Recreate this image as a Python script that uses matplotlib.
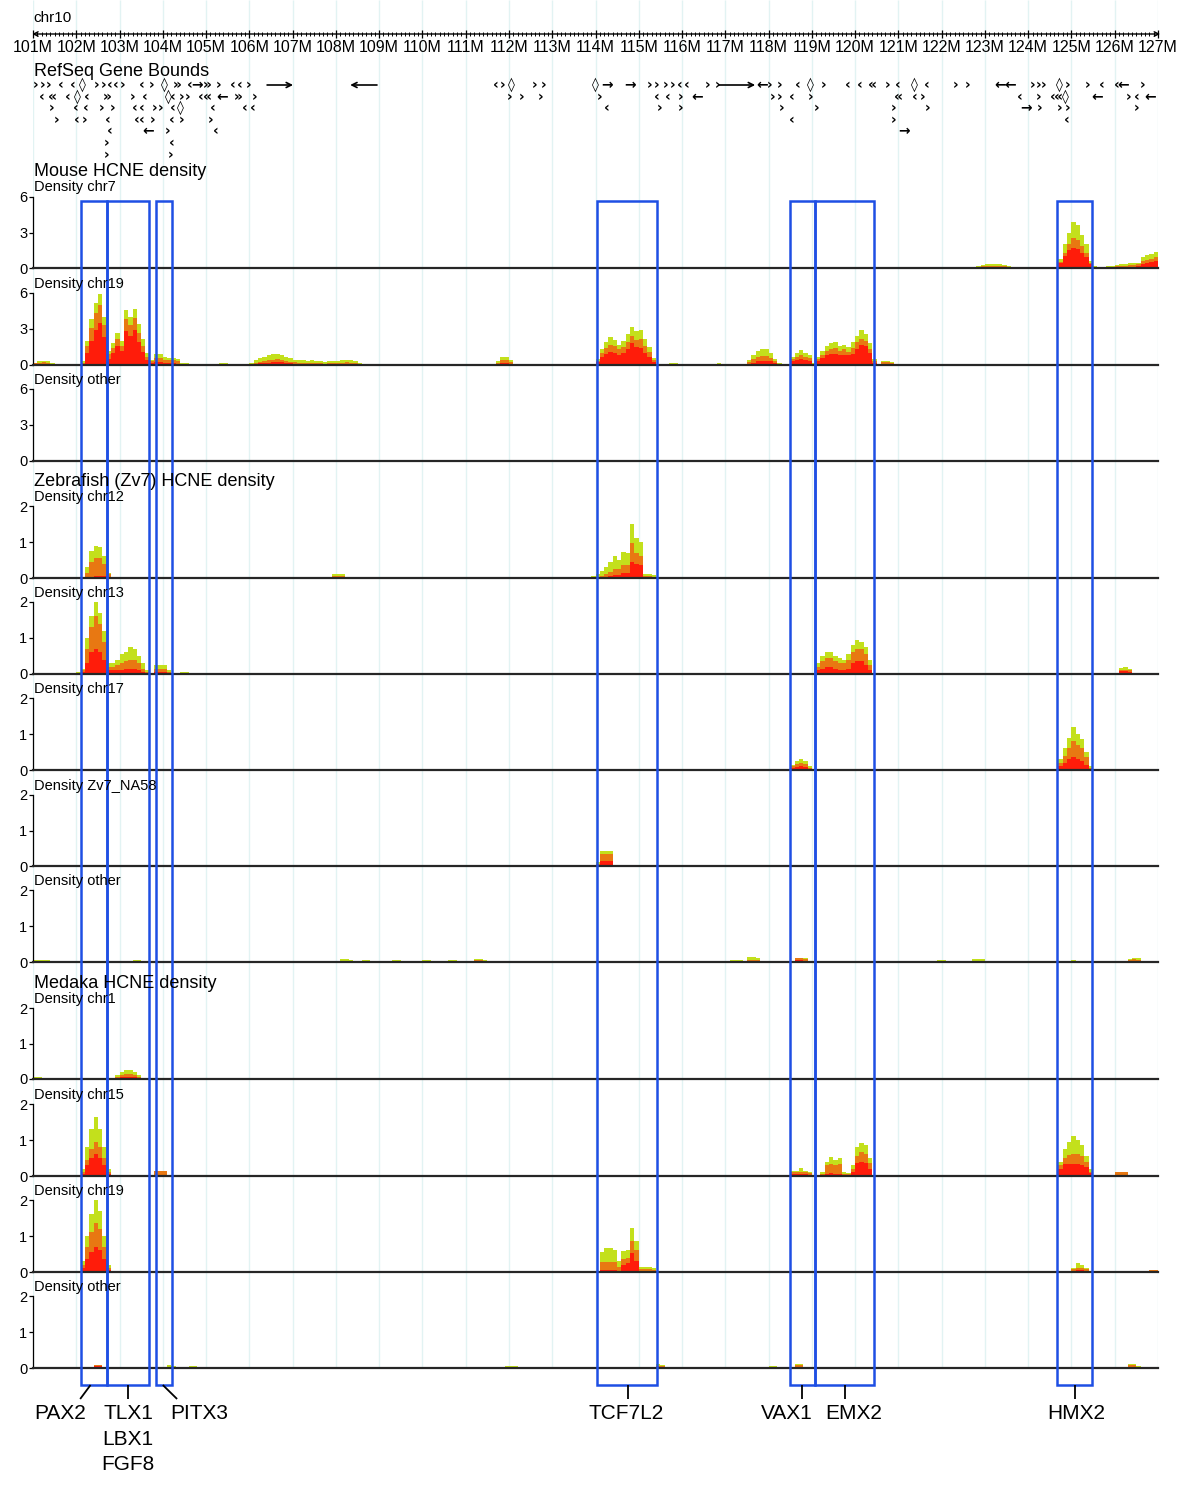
import numpy as np
import matplotlib
matplotlib.use("Agg")
import matplotlib.pyplot as plt
from matplotlib.patches import Rectangle
from matplotlib.ticker import MultipleLocator

plt.rcParams['font.family'] = ['Liberation Sans', 'DejaVu Sans']

# ---------------------------------------------------------------- data
CHROM = "chr10"
MB_START, MB_END = 101, 127
RULER_MAJOR = list(range(101, 128))
RULER_LABELS = [f"{m}M" for m in RULER_MAJOR]
STEP = 0.1  # Mb per density bin

# density runs: (start Mb, green (all), orange, red) heights per 0.1 Mb bin
mm_chr7 = [
    (121.1, [0.04, 0.05, 0.05, 0.04], [0.02, 0.03, 0.03, 0.02], [0.01, 0.01, 0.01, 0.01]),
    (121.8, [0.04, 0.05, 0.04], [0.02, 0.03, 0.02], [0.01, 0.01, 0.01]),
    (122.6, [0.08, 0.12, 0.18, 0.25, 0.3, 0.3, 0.35, 0.3, 0.25, 0.2, 0.12, 0.08],
            [0.05, 0.07, 0.1, 0.15, 0.18, 0.18, 0.2, 0.18, 0.15, 0.12, 0.07, 0.05],
            [0.02, 0.03, 0.05, 0.07, 0.09, 0.09, 0.1, 0.09, 0.07, 0.06, 0.03, 0.02]),
    (124.7, [0.8, 2.0, 3.0, 3.9, 3.6, 2.8, 2.0, 0.6],
            [0.5, 1.3, 2.0, 2.5, 2.4, 1.9, 1.3, 0.4],
            [0.4, 1.0, 1.5, 1.7, 1.6, 1.3, 0.9, 0.3]),
    (125.5, [0.2, 0.1, 0.1, 0.15, 0.2, 0.25, 0.3, 0.35, 0.4, 0.4, 0.45, 0.9, 1.1, 1.2, 1.35],
            [0.1, 0.05, 0.05, 0.1, 0.12, 0.15, 0.2, 0.2, 0.25, 0.25, 0.3, 0.6, 0.7, 0.8, 0.9],
            [0.05, 0.03, 0.03, 0.05, 0.06, 0.08, 0.1, 0.1, 0.12, 0.12, 0.15, 0.35, 0.4, 0.5, 0.55]),
]

mm_chr19 = [
    (101.0, [0.2, 0.3, 0.35, 0.3, 0.15], [0.15, 0.2, 0.25, 0.2, 0.1], [0.05, 0.1, 0.1, 0.1, 0.05]),
    (101.7, [0.08, 0.08, 0.08, 0.08], [0.06, 0.06, 0.06, 0.06], [0.03, 0.03, 0.03, 0.03]),
    (102.1, [0.3, 2.0, 3.8, 5.2, 5.9, 4.0, 1.2],
            [0.2, 1.6, 3.1, 4.3, 5.0, 3.3, 0.9],
            [0.1, 1.0, 2.0, 2.9, 3.5, 2.3, 0.5]),
    (102.8, [1.8, 2.7, 2.0, 4.6, 4.0, 4.7, 3.4, 2.2, 1.0, 0.4],
            [1.4, 2.2, 1.6, 3.8, 3.3, 3.9, 2.7, 1.6, 0.7, 0.3],
            [1.0, 1.6, 1.2, 2.8, 2.4, 2.9, 1.9, 1.1, 0.4, 0.15]),
    (103.8, [0.9, 0.9, 0.7, 0.6, 0.6, 0.5, 0.2, 0.15, 0.1, 0.05],
            [0.6, 0.6, 0.45, 0.4, 0.4, 0.3, 0.12, 0.1, 0.06, 0.03],
            [0.25, 0.25, 0.2, 0.15, 0.15, 0.1, 0.05, 0.05, 0.03, 0.02]),
    (105.2, [0.12, 0.15, 0.15, 0.1], [0.08, 0.08, 0.08, 0.06], [0.04, 0.04, 0.04, 0.03]),
    (106.0, [0.2, 0.4, 0.55, 0.7, 0.8, 0.9, 0.95, 0.85, 0.7, 0.55, 0.45, 0.4, 0.4,
             0.35, 0.4, 0.35, 0.3, 0.25, 0.3, 0.35, 0.35, 0.4, 0.45, 0.4, 0.3, 0.2],
            [0.1, 0.2, 0.28, 0.35, 0.4, 0.45, 0.48, 0.42, 0.35, 0.28, 0.22, 0.2, 0.2,
             0.18, 0.2, 0.18, 0.15, 0.12, 0.15, 0.18, 0.18, 0.2, 0.22, 0.2, 0.15, 0.1],
            [0.05, 0.1, 0.14, 0.18, 0.2, 0.22, 0.24, 0.21, 0.18, 0.14, 0.11, 0.1, 0.1,
             0.09, 0.1, 0.09, 0.08, 0.06, 0.08, 0.09, 0.09, 0.1, 0.11, 0.1, 0.08, 0.05]),
    (111.7, [0.3, 0.7, 0.7, 0.4, 0.1], [0.2, 0.4, 0.4, 0.25, 0.05], [0.1, 0.2, 0.2, 0.1, 0.03]),
    (113.1, [0.1, 0.1, 0.1, 0.08], [0.05, 0.05, 0.05, 0.04], [0.02, 0.02, 0.02, 0.02]),
    (114.0, [0.5, 1.3, 1.9, 2.3, 2.1, 1.7, 2.0, 2.6, 3.2, 2.8, 2.9, 2.2, 1.5, 0.6],
            [0.35, 1.0, 1.4, 1.7, 1.6, 1.3, 1.5, 1.9, 2.4, 2.1, 2.2, 1.6, 1.1, 0.4],
            [0.25, 0.7, 0.9, 1.1, 1.0, 0.8, 1.0, 1.3, 1.8, 1.5, 1.4, 1.0, 0.7, 0.25]),
    (115.7, [0.15, 0.15], [0.08, 0.08], [0.03, 0.03]),
    (116.8, [0.15, 0.12], [0.08, 0.06], [0.03, 0.03]),
    (117.4, [0.1, 0.4, 0.8, 1.2, 1.3, 1.3, 1.0, 0.5, 0.15],
            [0.05, 0.25, 0.5, 0.7, 0.75, 0.75, 0.6, 0.3, 0.08],
            [0.03, 0.1, 0.2, 0.3, 0.35, 0.35, 0.3, 0.15, 0.05]),
    (118.5, [0.7, 1.0, 1.25, 1.0, 0.8, 0.2], [0.5, 0.7, 0.8, 0.7, 0.55, 0.1],
            [0.3, 0.45, 0.5, 0.45, 0.35, 0.05]),
    (119.1, [0.7, 1.2, 1.6, 1.8, 1.9, 1.6, 1.7, 1.5, 1.9, 2.4, 2.9, 2.6, 1.8, 0.5],
            [0.5, 0.85, 1.2, 1.3, 1.4, 1.2, 1.3, 1.1, 1.4, 1.9, 2.2, 2.0, 1.3, 0.3],
            [0.3, 0.6, 0.8, 0.9, 0.95, 0.8, 0.85, 0.8, 0.9, 1.3, 1.7, 1.6, 1.0, 0.2]),
    (120.6, [0.3, 0.35, 0.25], [0.25, 0.25, 0.2], [0.1, 0.1, 0.08]),
]

mm_other = []

zf_chr12 = [
    (102.2, [0.3, 0.75, 0.9, 0.85, 0.6, 0.15], [0.15, 0.45, 0.55, 0.55, 0.4, 0.1],
            [0.02, 0.04, 0.06, 0.06, 0.05, 0.02]),
    (107.9, [0.1, 0.1, 0.1], [0.05, 0.05, 0.05], [0.02, 0.02, 0.02]),
    (113.9, [0.05, 0.1, 0.2, 0.3, 0.45, 0.6, 0.5, 0.72, 0.7, 1.5, 1.1, 1.0, 0.12, 0.12, 0.08],
            [0.02, 0.04, 0.06, 0.1, 0.18, 0.25, 0.25, 0.35, 0.35, 0.97, 0.7, 0.6, 0.05, 0.05, 0.03],
            [0.0, 0.0, 0.02, 0.03, 0.05, 0.08, 0.08, 0.15, 0.15, 0.45, 0.4, 0.35, 0.02, 0.02, 0.01]),
]

zf_chr13 = [
    (102.0, [0.05, 0.15, 1.0, 1.6, 2.0, 1.7, 1.2, 0.3],
            [0.03, 0.1, 0.7, 1.3, 1.6, 1.4, 0.9, 0.2],
            [0.01, 0.05, 0.3, 0.6, 0.7, 0.6, 0.4, 0.1]),
    (102.8, [0.3, 0.4, 0.55, 0.6, 0.75, 0.7, 0.5, 0.3, 0.1],
            [0.2, 0.25, 0.3, 0.35, 0.4, 0.4, 0.3, 0.15, 0.05],
            [0.1, 0.1, 0.12, 0.15, 0.15, 0.15, 0.1, 0.05, 0.02]),
    (103.8, [0.25, 0.25, 0.25, 0.1], [0.15, 0.15, 0.15, 0.06], [0.05, 0.05, 0.05, 0.02]),
    (104.4, [0.05, 0.05], [0.03, 0.03], [0.01, 0.01]),
    (112.5, [0.02, 0.02], [0.01, 0.01], [0.0, 0.0]),
    (117.8, [0.03, 0.03, 0.03], [0.01, 0.01, 0.01], [0.0, 0.0, 0.0]),
    (119.1, [0.3, 0.5, 0.6, 0.6, 0.5, 0.45, 0.4, 0.55, 0.8, 0.95, 0.9, 0.75, 0.4],
            [0.2, 0.35, 0.45, 0.45, 0.35, 0.3, 0.3, 0.4, 0.6, 0.7, 0.7, 0.55, 0.25],
            [0.1, 0.15, 0.2, 0.2, 0.15, 0.12, 0.12, 0.15, 0.3, 0.35, 0.35, 0.25, 0.1]),
    (123.0, [0.02, 0.02], [0.01, 0.01], [0.0, 0.0]),
    (126.1, [0.18, 0.2, 0.15], [0.12, 0.12, 0.1], [0.08, 0.08, 0.06]),
]

zf_chr17 = [
    (118.5, [0.15, 0.25, 0.3, 0.25, 0.1], [0.1, 0.18, 0.2, 0.18, 0.06], [0.05, 0.08, 0.1, 0.08, 0.03]),
    (124.7, [0.3, 0.6, 0.9, 1.2, 1.0, 0.85, 0.5, 0.1],
            [0.2, 0.4, 0.6, 0.8, 0.7, 0.6, 0.35, 0.05],
            [0.1, 0.2, 0.3, 0.35, 0.3, 0.25, 0.15, 0.03]),
]

zf_na58 = [
    (114.0, [0.1, 0.42, 0.42, 0.42], [0.05, 0.35, 0.35, 0.35], [0.02, 0.15, 0.15, 0.15]),
    (125.6, [0.02, 0.02], [0.01, 0.01], [0.0, 0.0]),
]

zf_other = [
    (101.0, [0.05, 0.05, 0.05, 0.05, 0.04], [0.04, 0.04, 0.04, 0.04, 0.03], [0.03, 0.03, 0.03, 0.03, 0.02]),
    (101.9, [0.03, 0.03], [0.02, 0.02], [0.01, 0.01]),
    (102.4, [0.04, 0.04], [0.03, 0.03], [0.01, 0.01]),
    (103.3, [0.06, 0.06], [0.04, 0.04], [0.02, 0.02]),
    (104.3, [0.04, 0.04], [0.02, 0.02], [0.01, 0.01]),
    (105.1, [0.04, 0.04], [0.02, 0.02], [0.01, 0.01]),
    (105.9, [0.03, 0.03], [0.02, 0.02], [0.01, 0.01]),
    (106.5, [0.04, 0.04], [0.03, 0.03], [0.02, 0.02]),
    (107.0, [0.04, 0.04], [0.03, 0.03], [0.02, 0.02]),
    (107.4, [0.04, 0.04], [0.03, 0.03], [0.02, 0.02]),
    (108.1, [0.08, 0.08, 0.06], [0.04, 0.04, 0.03], [0.01, 0.01, 0.01]),
    (108.6, [0.05, 0.05], [0.03, 0.03], [0.02, 0.02]),
    (109.3, [0.05, 0.05], [0.03, 0.03], [0.02, 0.02]),
    (110.0, [0.05, 0.05], [0.03, 0.03], [0.02, 0.02]),
    (110.6, [0.06, 0.06], [0.04, 0.04], [0.02, 0.02]),
    (111.2, [0.08, 0.08, 0.06], [0.05, 0.05, 0.03], [0.02, 0.02, 0.01]),
    (114.3, [0.03], [0.02], [0.01]),
    (114.6, [0.03], [0.02], [0.01]),
    (115.4, [0.02], [0.01], [0.0]),
    (117.1, [0.06, 0.06, 0.06], [0.03, 0.03, 0.03], [0.01, 0.01, 0.01]),
    (117.5, [0.15, 0.15, 0.12], [0.06, 0.06, 0.05], [0.02, 0.02, 0.02]),
    (118.6, [0.12, 0.12, 0.1], [0.1, 0.1, 0.08], [0.05, 0.05, 0.04]),
    (119.4, [0.04, 0.04], [0.02, 0.02], [0.01, 0.01]),
    (120.3, [0.03], [0.02], [0.01]),
    (121.3, [0.03, 0.03], [0.02, 0.02], [0.01, 0.01]),
    (121.9, [0.06, 0.06], [0.03, 0.03], [0.01, 0.01]),
    (122.7, [0.07, 0.07, 0.07], [0.03, 0.03, 0.03], [0.01, 0.01, 0.01]),
    (124.6, [0.03], [0.02], [0.01]),
    (125.0, [0.05], [0.03], [0.01]),
    (125.6, [0.03], [0.02], [0.01]),
    (126.3, [0.07, 0.12, 0.1], [0.05, 0.08, 0.06], [0.02, 0.04, 0.03]),
    (126.7, [0.04], [0.02], [0.01]),
]

md_chr1 = [
    (101.0, [0.05, 0.05, 0.03], [0.03, 0.03, 0.02], [0.01, 0.01, 0.01]),
    (102.9, [0.1, 0.2, 0.25, 0.25, 0.2, 0.1], [0.05, 0.12, 0.15, 0.15, 0.12, 0.05],
            [0.02, 0.05, 0.06, 0.06, 0.05, 0.02]),
    (104.3, [0.04, 0.04, 0.04], [0.02, 0.02, 0.02], [0.01, 0.01, 0.01]),
    (104.9, [0.03, 0.03, 0.03], [0.02, 0.02, 0.02], [0.01, 0.01, 0.01]),
]

md_chr15 = [
    (102.1, [0.2, 0.8, 1.3, 1.65, 1.3, 0.8, 0.2],
            [0.1, 0.45, 0.75, 0.95, 0.8, 0.5, 0.1],
            [0.05, 0.3, 0.5, 0.6, 0.5, 0.3, 0.05]),
    (102.8, [0.02, 0.02], [0.01, 0.01], [0.0, 0.0]),
    (103.4, [0.03, 0.03], [0.02, 0.02], [0.01, 0.01]),
    (103.8, [0.15, 0.15, 0.15], [0.13, 0.13, 0.13], [0.03, 0.03, 0.03]),
    (114.1, [0.02, 0.02, 0.02], [0.01, 0.01, 0.01], [0.0, 0.0, 0.0]),
    (118.5, [0.15, 0.15, 0.22, 0.15, 0.12], [0.1, 0.1, 0.12, 0.1, 0.08], [0.05, 0.05, 0.05, 0.05, 0.04]),
    (119.1, [0.03, 0.1, 0.4, 0.53, 0.45, 0.5, 0.1, 0.08, 0.3, 0.8, 0.92, 0.85, 0.5],
            [0.02, 0.05, 0.3, 0.33, 0.3, 0.33, 0.05, 0.05, 0.2, 0.55, 0.67, 0.6, 0.35],
            [0.01, 0.02, 0.05, 0.08, 0.05, 0.05, 0.02, 0.02, 0.1, 0.35, 0.38, 0.35, 0.2]),
    (123.1, [0.02, 0.02, 0.02], [0.01, 0.01, 0.01], [0.0, 0.0, 0.0]),
    (124.7, [0.4, 0.75, 0.95, 1.12, 1.0, 0.85, 0.55, 0.2],
            [0.3, 0.5, 0.58, 0.6, 0.6, 0.55, 0.4, 0.12],
            [0.2, 0.32, 0.33, 0.33, 0.32, 0.3, 0.25, 0.08]),
    (126.0, [0.12, 0.12, 0.12], [0.1, 0.1, 0.1], [0.04, 0.04, 0.04]),
    (126.6, [0.03, 0.03, 0.03], [0.02, 0.02, 0.02], [0.01, 0.01, 0.01]),
]

md_chr19 = [
    (102.1, [0.3, 1.0, 1.6, 2.0, 1.7, 1.0, 0.2],
            [0.2, 0.7, 1.1, 1.35, 1.2, 0.7, 0.1],
            [0.1, 0.35, 0.55, 0.7, 0.6, 0.35, 0.05]),
    (114.1, [0.55, 0.66, 0.66, 0.62, 0.3, 0.57, 0.6, 1.22, 0.85, 0.15, 0.15, 0.15, 0.1],
            [0.28, 0.28, 0.28, 0.28, 0.15, 0.35, 0.4, 0.86, 0.6, 0.07, 0.07, 0.07, 0.05],
            [0.05, 0.05, 0.05, 0.05, 0.03, 0.2, 0.25, 0.53, 0.3, 0.02, 0.02, 0.02, 0.01]),
    (125.0, [0.12, 0.24, 0.2, 0.12], [0.08, 0.12, 0.12, 0.08], [0.03, 0.05, 0.05, 0.03]),
    (126.8, [0.05, 0.05], [0.05, 0.05], [0.02, 0.02]),
]

md_other = [
    (101.8, [0.02, 0.02], [0.01, 0.01], [0.0, 0.0]),
    (102.4, [0.08, 0.08], [0.07, 0.07], [0.05, 0.05]),
    (103.1, [0.02], [0.01], [0.0]),
    (104.1, [0.07, 0.05], [0.03, 0.02], [0.01, 0.01]),
    (104.6, [0.05, 0.05], [0.03, 0.03], [0.01, 0.01]),
    (105.3, [0.02], [0.01], [0.0]),
    (106.4, [0.02, 0.02], [0.01, 0.01], [0.0, 0.0]),
    (107.7, [0.02], [0.01], [0.0]),
    (109.2, [0.02], [0.01], [0.0]),
    (110.0, [0.02], [0.01], [0.0]),
    (111.9, [0.05, 0.06, 0.05], [0.03, 0.04, 0.03], [0.01, 0.02, 0.01]),
    (112.7, [0.03, 0.03], [0.02, 0.02], [0.01, 0.01]),
    (113.6, [0.03], [0.02], [0.01]),
    (115.4, [0.1, 0.08], [0.06, 0.05], [0.02, 0.02]),
    (117.5, [0.03], [0.02], [0.01]),
    (118.0, [0.05, 0.05], [0.03, 0.03], [0.01, 0.01]),
    (118.6, [0.1, 0.1], [0.07, 0.07], [0.03, 0.03]),
    (119.6, [0.03], [0.02], [0.01]),
    (120.2, [0.03], [0.02], [0.01]),
    (121.0, [0.03], [0.02], [0.01]),
    (122.1, [0.03], [0.02], [0.01]),
    (123.1, [0.03], [0.02], [0.01]),
    (124.6, [0.03], [0.02], [0.01]),
    (125.5, [0.02], [0.01], [0.0]),
    (126.3, [0.1, 0.1, 0.05], [0.08, 0.08, 0.04], [0.04, 0.04, 0.02]),
    (126.8, [0.02], [0.01], [0.0]),
]

SECTIONS = ["Mouse HCNE density", "Zebrafish (Zv7) HCNE density", "Medaka HCNE density"]
TRACK_LABELS = ["Density chr7", "Density chr19", "Density other",
                "Density chr12", "Density chr13", "Density chr17", "Density Zv7_NA58", "Density other",
                "Density chr1", "Density chr15", "Density chr19", "Density other"]
TRACK_DATA = [mm_chr7, mm_chr19, mm_other,
              zf_chr12, zf_chr13, zf_chr17, zf_na58, zf_other,
              md_chr1, md_chr15, md_chr19, md_other]
TRACK_YMAX = [6, 6, 6, 2, 2, 2, 2, 2, 2, 2, 2, 2]
TRACK_YTICKS = [[0, 3, 6]] * 3 + [[0, 1, 2]] * 9

# RefSeq gene bound glyphs, one list of positions (Mb) and one glyph string per row
gene_row0_x = [101.07, 101.21, 101.35, 101.65, 101.92, 102.13, 102.48, 102.62, 102.78, 102.92, 103.08,
               103.52, 103.73, 104.03, 104.33, 104.63, 104.79, 105.02, 105.28, 105.62, 105.78, 105.99,
               111.70, 111.86, 112.05, 112.60, 112.79, 113.99, 114.27, 114.81, 115.26, 115.42, 115.61,
               115.79, 115.95, 116.11, 116.58, 116.81, 117.85, 118.03, 118.26, 118.68, 118.96, 119.26,
               119.84, 120.11, 120.41, 120.76, 120.99, 121.38, 121.66, 122.31, 122.59, 123.35, 123.58,
               124.09, 124.23, 124.36, 124.73, 124.90, 125.38, 125.71, 126.05, 126.19, 126.65]
gene_row0_g = "›››‹‹◊››‹‹›‹›◊»‹→»›‹‹›" + "‹›◊››◊→→››››‹‹››←››‹◊›‹‹«›‹◊‹››←←›››◊››‹‹←›"
gene_row1_x = [101.21, 101.44, 101.81, 102.02, 102.25, 102.71, 103.31, 103.59, 104.12, 104.24, 104.44,
               104.58, 104.88, 105.02, 105.38, 105.74, 106.13,
               112.02, 112.30, 112.72, 114.10, 115.42, 115.68, 115.96, 116.35, 118.10, 118.26, 118.54,
               118.96, 120.99, 121.38, 121.55, 123.81, 124.23, 124.57, 124.69, 124.85, 125.59, 126.33,
               126.51, 126.81]
gene_row1_g = "‹«‹◊‹»›‹◊‹››‹«←»›" + "››››‹‹›←››‹›«‹›‹›‹«◊←›‹←"
gene_row2_x = [101.44, 101.99, 102.22, 102.59, 102.85, 103.36, 103.52, 103.82, 103.94, 104.24, 104.40,
               105.16, 105.90, 106.08,
               114.27, 115.49, 115.96, 118.31, 119.12, 120.88, 121.68, 123.95, 124.27, 124.73, 124.90,
               126.51]
gene_row2_g = "›‹‹››‹‹››‹◊‹‹‹" + "‹››››››→››››"
gene_row3_x = [101.55, 102.02, 102.20, 102.73, 103.40, 103.52, 103.77, 104.21, 104.44, 105.11,
               118.54, 120.88, 124.90]
gene_row3_g = "›‹›‹‹‹›‹››" + "‹›‹"
gene_row4_x = [102.78, 103.66, 104.12, 105.23, 121.13]
gene_row4_g = "‹←›‹→"
gene_row5_x = [102.71, 104.21]
gene_row5_g = "›‹"
gene_row6_x = [102.71, 104.17]
gene_row6_g = "››"
GENE_ROWS = [(gene_row0_x, gene_row0_g), (gene_row1_x, gene_row1_g), (gene_row2_x, gene_row2_g),
             (gene_row3_x, gene_row3_g), (gene_row4_x, gene_row4_g), (gene_row5_x, gene_row5_g),
             (gene_row6_x, gene_row6_g)]

long_arrow_start = [106.41, 108.95, 116.85]
long_arrow_end = [107.01, 108.33, 117.69]
long_arrow_row = [0, 0, 0]

# highlighted loci
box_start = [102.11, 102.71, 103.84, 114.03, 118.49, 119.07, 124.67]
box_end = [102.71, 103.68, 104.21, 115.42, 119.07, 120.44, 125.47]
label_names = ["PAX2", "TLX1\nLBX1\nFGF8", "PITX3", "TCF7L2", "VAX1", "EMX2", "HMX2"]
leader_top = [102.33, 103.20, 104.00, 114.75, 118.77, 119.77, 125.08]
leader_bottom = [102.09, 103.20, 104.33, 114.75, 118.77, 119.77, 125.08]
label_x = [101.62, 103.20, 104.84, 114.70, 118.43, 119.97, 125.10]

# ---------------------------------------------------------------- layout (pixels)
W, H = 1200, 1487
X0, X1 = 33, 1158
TRACK_TOP = [197, 293, 389, 506, 602, 698, 795, 890, 1008, 1104, 1200, 1296]
TRACK_BASE = [268, 365, 461, 578, 674, 770, 866, 962, 1079, 1176, 1272, 1368]
TRACK_LABEL_Y = [187, 284, 380, 497, 593, 689, 786, 881, 999, 1095, 1191, 1287]
SECTION_Y = [172, 482, 984]
GENE_ROW0, GENE_DY = 85, 11.6
BOX_TOP, BOX_BOTTOM = 201, 1385

GREEN, ORANGE, RED = "#c3e01c", "#e87812", "#ff1c0a"
BLUE = "#1e4fe4"
GRID = "#e2f3f3"

fig = plt.figure(figsize=(W / 100, H / 100), dpi=100)


def fax(left, top, right, bottom, z):
    ax = fig.add_axes([left / W, 1 - bottom / H, (right - left) / W, (bottom - top) / H])
    ax.set_zorder(z)
    ax.patch.set_alpha(0)
    return ax


# background grid
back = fax(X0, 0, X1, H, 0)
back.set_xlim(MB_START, MB_END)
back.set_ylim(H, 0)
back.axis("off")
back.vlines(RULER_MAJOR, 0, TRACK_BASE[-1], color=GRID, lw=1.0)

# ruler
ruler = fax(X0, 20, X1, 34, 1)
ruler.set_xlim(MB_START, MB_END)
ruler.set_ylim(0, 1)
for s in ruler.spines.values():
    s.set_visible(False)
ruler.set_yticks([])
ruler.set_xticks(RULER_MAJOR)
ruler.set_xticklabels(RULER_LABELS)
ruler.xaxis.set_minor_locator(MultipleLocator(0.1))
ruler.tick_params(axis="x", which="major", direction="inout", length=6, width=0.9, labelsize=11.5, pad=1.5)
ruler.tick_params(axis="x", which="minor", direction="inout", length=3.5, width=0.7)
ruler.annotate("", xy=(MB_START - 0.02, 0), xytext=(MB_END + 0.05, 0), xycoords="data",
               arrowprops=dict(arrowstyle="<->", lw=1.0, color="black", shrinkA=0, shrinkB=0,
                               mutation_scale=8), annotation_clip=False)

# density tracks
for i, runs in enumerate(TRACK_DATA):
    ax = fax(X0, TRACK_TOP[i], X1, TRACK_BASE[i], 1)
    ax.set_xlim(MB_START, MB_END)
    ax.set_ylim(0, TRACK_YMAX[i])
    for start, g, o, r in runs:
        for vals, col in ((g, GREEN), (o, ORANGE), (r, RED)):
            xs = start + STEP * np.arange(len(vals) + 1)
            ys = list(vals) + [vals[-1]]
            ax.fill_between(xs, 0, ys, step="post", color=col, lw=0)
    ax.spines["top"].set_visible(False)
    ax.spines["right"].set_visible(False)
    ax.spines["bottom"].set_linewidth(1.6)
    ax.spines["bottom"].set_color("#262626")
    ax.spines["left"].set_linewidth(0.9)
    ax.set_xticks([])
    ax.set_yticks(TRACK_YTICKS[i])
    ax.tick_params(axis="y", direction="out", length=3, width=0.9, labelsize=10.5, pad=1)

# overlay: texts, gene glyphs, boxes, labels
ov = fax(X0, 0, X1, H, 3)
ov.set_xlim(MB_START, MB_END)
ov.set_ylim(H, 0)
ov.axis("off")

ov.text(MB_START + 0.02, 18, CHROM, fontsize=11, va="center", ha="left")
ov.text(MB_START + 0.02, 72, "RefSeq Gene Bounds", fontsize=13, va="center", ha="left")
for t, y in zip(SECTIONS, SECTION_Y):
    ov.text(MB_START + 0.02, y, t, fontsize=13, va="center", ha="left")
for t, y in zip(TRACK_LABELS, TRACK_LABEL_Y):
    ov.text(MB_START + 0.03, y, t, fontsize=10.5, va="center", ha="left")

for row, (xs_row, glyphs) in enumerate(GENE_ROWS):
    y = GENE_ROW0 + GENE_DY * row
    for x, gl in zip(xs_row, glyphs):
        ov.text(x, y, gl, fontsize=10, fontweight="bold",
                ha="center", va="center", family=["DejaVu Sans"])
for xs, xe, row in zip(long_arrow_start, long_arrow_end, long_arrow_row):
    y = GENE_ROW0 + GENE_DY * row
    ov.annotate("", xy=(xe, y), xytext=(xs, y),
                arrowprops=dict(arrowstyle="->", lw=1.2, color="black", shrinkA=0, shrinkB=0,
                                mutation_scale=9))

for xs, xe in zip(box_start, box_end):
    ov.add_patch(Rectangle((xs, BOX_TOP), xe - xs, BOX_BOTTOM - BOX_TOP, fill=False,
                           edgecolor=BLUE, lw=1.8))

for name, xt, xb, xl in zip(label_names, leader_top, leader_bottom, label_x):
    ov.plot([xt, xb], [BOX_BOTTOM, BOX_BOTTOM + 14], color="black", lw=1.3, solid_capstyle="butt")
    ov.text(xl, BOX_BOTTOM + 19, name, fontsize=15, ha="center", va="top", linespacing=1.45)

fig.savefig("out.png", dpi=100)
